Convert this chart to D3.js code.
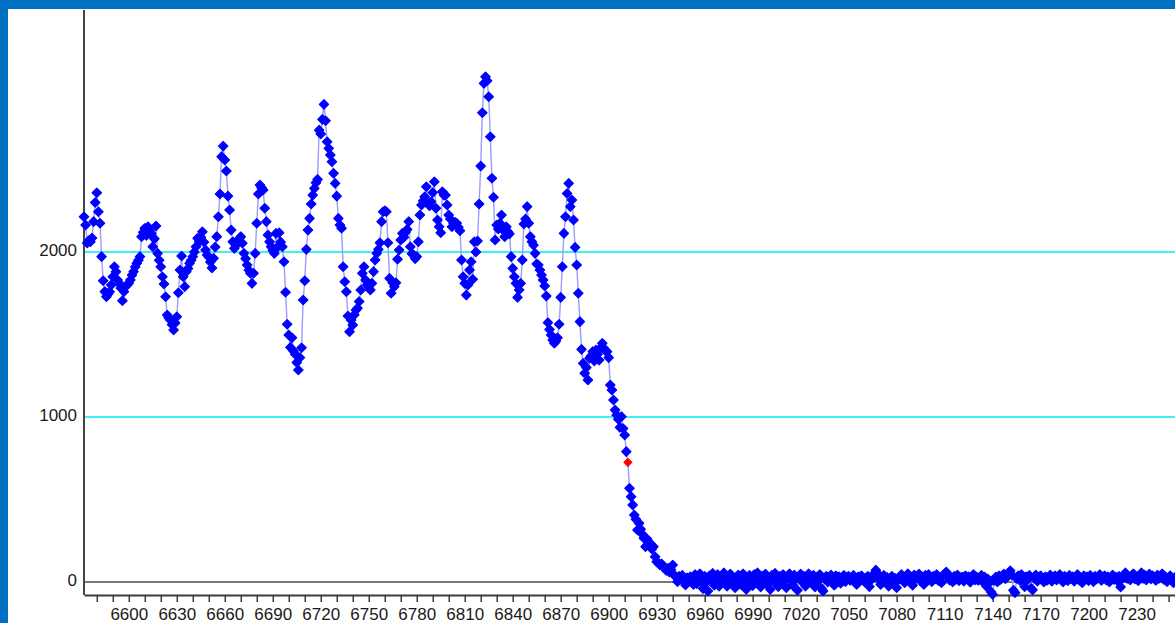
<!DOCTYPE html>
<html>
<head>
<meta charset="utf-8">
<script src="https://cdn.jsdelivr.net/npm/d3@7"></script>
<style>
  html, body { margin: 0; padding: 0; background: #fff; overflow: hidden; }
  svg { display: block; }
  text { font-family: "Liberation Sans", Arial, sans-serif; }
</style>
</head>
<body>
<svg id="chart" width="1175" height="623"></svg>
<script>
// Spectrum samples, one per wavelength unit starting at wavelengthStart
const wavelengthStart = 6572;
const intensity = [
  2214, 2164, 2055, 2070, 2062, 2085, 2184, 2300, 2359, 2244,
  2174, 1972, 1826, 1760, 1729, 1745, 1759, 1800, 1850, 1911,
  1880, 1830, 1810, 1782, 1705, 1760, 1790, 1800, 1812, 1830,
  1860, 1881, 1910, 1932, 1950, 1972, 2093, 2120, 2144, 2100,
  2153, 2130, 2113, 2032, 2080, 2158, 1992, 1950, 1911, 1850,
  1806, 1729, 1618, 1600, 1588, 1560, 1527, 1570, 1608, 1753,
  1891, 1976, 1850, 1790, 1881, 1900, 1932, 1950, 1972, 2000,
  2032, 2083, 2062, 2090, 2123, 2060, 2012, 1982, 1970, 1940,
  1903, 1962, 2030, 2093, 2214, 2352, 2578, 2642, 2558, 2491,
  2339, 2255, 2133, 2062, 2022, 2040, 2062, 2080, 2093, 2053,
  1992, 1960, 1921, 1890, 1871, 1810, 1871, 1992, 2174, 2352,
  2406, 2390, 2376, 2265, 2184, 2103, 2062, 2032, 2010, 1992,
  2113, 2030, 2117, 2060, 2032, 1941, 1756, 1562, 1497, 1422,
  1480, 1400, 1380, 1330, 1285, 1360, 1420, 1709, 1826, 2016,
  2133, 2204, 2291, 2345, 2386, 2420, 2440, 2739, 2715, 2804,
  2895, 2796, 2668, 2628, 2588, 2547, 2477, 2416, 2339, 2204,
  2164, 2144, 1911, 1820, 1759, 1612, 1517, 1588, 1558, 1620,
  1648, 1660, 1700, 1770, 1871, 1911, 1830, 1800, 1790, 1770,
  1810, 1881, 1952, 1992, 2016, 2056, 2184, 2244, 2250, 2244,
  2056, 1840, 1750, 1814, 1790, 1814, 1956, 2012, 2073, 2113,
  2090, 2120, 2137, 2184, 2032, 1990, 1982, 1960, 1972, 2062,
  2224, 2285, 2310, 2335, 2396, 2295, 2280, 2305, 2360, 2426,
  2265, 2194, 2153, 2117, 2365, 2345, 2345, 2285, 2224, 2200,
  2153, 2174, 2180, 2174, 2150, 2129, 1952, 1850, 1810, 1739,
  1800, 1891, 1941, 1835, 2062, 2000, 2067, 2291, 2521, 2844,
  3022, 3062, 3038, 2941, 2699, 2447, 2332, 2073, 2164, 2140,
  2174, 2224, 2133, 2093, 2153, 2123, 2110, 1972, 1901, 1850,
  1810, 1725, 1770, 1810, 1952, 2170, 2200, 2275, 2174, 2093,
  2062, 2042, 1992, 1927, 1921, 1891, 1861, 1830, 1794, 1733,
  1572, 1530, 1497, 1467, 1447, 1460, 1480, 1562, 1725, 1911,
  2113, 2214, 2355, 2416, 2275, 2315, 2194, 2028, 1921, 1750,
  1578, 1410, 1325, 1265, 1300, 1224, 1356, 1370, 1396, 1340,
  1406, 1380, 1345, 1420, 1447, 1416, 1400, 1396, 1360, 1194,
  1164, 1103, 1042, 1012, 986, 937, 1002, 930, 891, 790,
  725, 568, 517, 467, 406, 380, 315, 356, 320, 290,
  265, 214, 260, 244, 230, 200, 214, 153, 123, 115,
  103, 110, 93, 85, 70, 83, 60, 75, 103, 42,
  30, 2, 35, 22, 40, 10, -18, 25, 15, 32,
  20, -15, 45, -10, 30, 50, 5, -40, 35, 0,
  -55, 38, 10, 52, -20, 22, 45, -25, 12, 40,
  55, 0, -25, 35, 48, -5, 25, -35, 10, 42,
  15, -18, 50, 30, -45, 5, 40, 18, -22, 45,
  25, 55, 0, -30, 35, 10, 48, -15, 22, -45,
  40, 5, 52, 15, -28, 35, -5, 45, 10, -35,
  30, 50, 5, -20, 42, 18, -50, 25, 48, 0,
  35, -25, 15, 50, 20, -5, 40, -30, 30, 8,
  45, -38, -55, 20, 35, 0, 28, 42, 10, -20,
  38, 12, 32, -8, 25, 40, 2, 30, 35, 10,
  22, 40, 5, -15, 32, 15, 38, 25, 0, 25,
  35, -28, 12, 42, 48, 72, 52, 15, -15, 30,
  40, 5, 28, -25, 15, 35, 0, 22, -35, 12,
  30, 45, 18, -5, 35, 50, 10, 28, -20, 42,
  20, 35, 48, 5, 30, -15, 40, 15, 45, 25,
  2, 35, 18, 45, 10, 30, -5, 38, 50, 60,
  32, 12, 28, 0, 35, 15, 42, 8, 25, 30,
  5, 38, 18, 32, -2, 25, 45, 12, 30, 10,
  25, 40, 0, 30, -25, 18, -5, -60, -75, 10,
  30, 0, 38, 15, 32, 48, 20, 40, 52, 68,
  42, -50, -65, 22, 38, 10, 45, 18, -28, 32,
  15, 40, -38, -48, 25, 42, 5, 30, 38, 15,
  0, 32, 10, 28, 42, 5, 22, 38, 12, 30,
  45, 18, 0, 35, 25, 8, 40, 20, 32, 5,
  30, 45, 12, 25, -5, 38, 20, 32, 8, 40,
  25, 2, 35, 18, 30, 45, 10, 25, 38, 12,
  32, 0, 25, 42, 15, 30, 8, 35, -30, 20,
  42, 55, 22, 32, 12, 38, 50, 18, 30, 8,
  40, 55, 22, 42, 12, 30, 48, 18, 38, 28,
  10, 42, 22, 35, 50, 15, 32, 2, 25, 38,
  18, -5, 28
];
// The highlighted sample
const markedWavelength = 6912;

// Axis labelling
const xTickLabels = [6600, 6630, 6660, 6690, 6720, 6750, 6780, 6810, 6840, 6870, 6900,
  6930, 6960, 6990, 7020, 7050, 7080, 7110, 7140, 7170, 7200, 7230];
const xTickStep = 10;
const yTickLabels = [0, 1000, 2000];
const gridValues = [1000, 2000];

const points = intensity.map((v, i) => ({ w: wavelengthStart + i, v }));

const W = 1175, H = 623;
const svg = d3.select("#chart");

svg.append("rect").attr("width", W).attr("height", H).attr("fill", "#ffffff");

const x = d3.scaleLinear().domain([6572, 7254]).range([84, 1175]);
const y = d3.scaleLinear().domain([-79, 3467]).range([595, 10]);

// horizontal guide lines
svg.append("g").selectAll("line").data(gridValues).join("line")
  .attr("x1", x.range()[0]).attr("x2", W)
  .attr("y1", d => y(d)).attr("y2", d => y(d))
  .attr("stroke", "#3ef0f2").attr("stroke-width", 2);

// zero baseline
svg.append("line")
  .attr("x1", x.range()[0]).attr("x2", W)
  .attr("y1", y(0)).attr("y2", y(0))
  .attr("stroke", "#4a4a4a").attr("stroke-width", 1.6);

// bottom axis
const xTicks = d3.range(6580, 7251, xTickStep);
const xAxis = d3.axisBottom(x)
  .tickValues(xTicks)
  .tickSizeInner(7)
  .tickSizeOuter(0)
  .tickPadding(6)
  .tickFormat(d => xTickLabels.includes(d) ? String(d) : "");
const gx = svg.append("g").attr("transform", `translate(0,${y.range()[0]})`).call(xAxis);
gx.select(".domain").attr("stroke", "#3a3a3a").attr("stroke-width", 2);
gx.selectAll(".tick line").attr("stroke", "#3a3a3a").attr("stroke-width", 1.5);
gx.selectAll(".tick text")
  .attr("fill", "#1a1a1a")
  .style("font-size", "17px")
  .style("font-family", "'Liberation Sans', Arial, sans-serif");

// left axis line with value labels
svg.append("line")
  .attr("x1", x.range()[0]).attr("x2", x.range()[0])
  .attr("y1", y.range()[1]).attr("y2", y.range()[0])
  .attr("stroke", "#444").attr("stroke-width", 2);
svg.append("g").selectAll("text").data(yTickLabels).join("text")
  .attr("x", 77)
  .attr("y", d => y(d) - 2)
  .attr("dy", "0.35em")
  .attr("text-anchor", "end")
  .attr("fill", "#1a1a1a")
  .style("font-size", "17px")
  .text(d => d);

// connecting trace
const line = d3.line().x(d => x(d.w)).y(d => y(d.v));
svg.append("path").datum(points)
  .attr("d", line)
  .attr("fill", "none")
  .attr("stroke", "#9a9cff")
  .attr("stroke-width", 1.4);

// diamond markers
const diamond = r => `M0,${-r}L${r},0L0,${r}L${-r},0Z`;
svg.append("g").selectAll("path").data(points.filter(p => p.w !== markedWavelength)).join("path")
  .attr("transform", d => `translate(${x(d.w)},${y(d.v)})`)
  .attr("d", diamond(4.6))
  .attr("fill", "#0000ff")
  .attr("stroke", "#0000ff")
  .attr("stroke-width", 1.3)
  .attr("stroke-linejoin", "round");

svg.append("g").selectAll("path").data(points.filter(p => p.w === markedWavelength)).join("path")
  .attr("transform", d => `translate(${x(d.w)},${y(d.v)})`)
  .attr("d", diamond(4.2))
  .attr("fill", "#ff0000")
  .attr("stroke", "#ff0000")
  .attr("stroke-width", 1)
  .attr("stroke-linejoin", "round");

// window frame
svg.append("rect").attr("x", 0).attr("y", 0).attr("width", W).attr("height", 9).attr("fill", "#0071c2");
svg.append("rect").attr("x", 0).attr("y", 0).attr("width", 8).attr("height", H).attr("fill", "#0071c2");
</script>
</body>
</html>
